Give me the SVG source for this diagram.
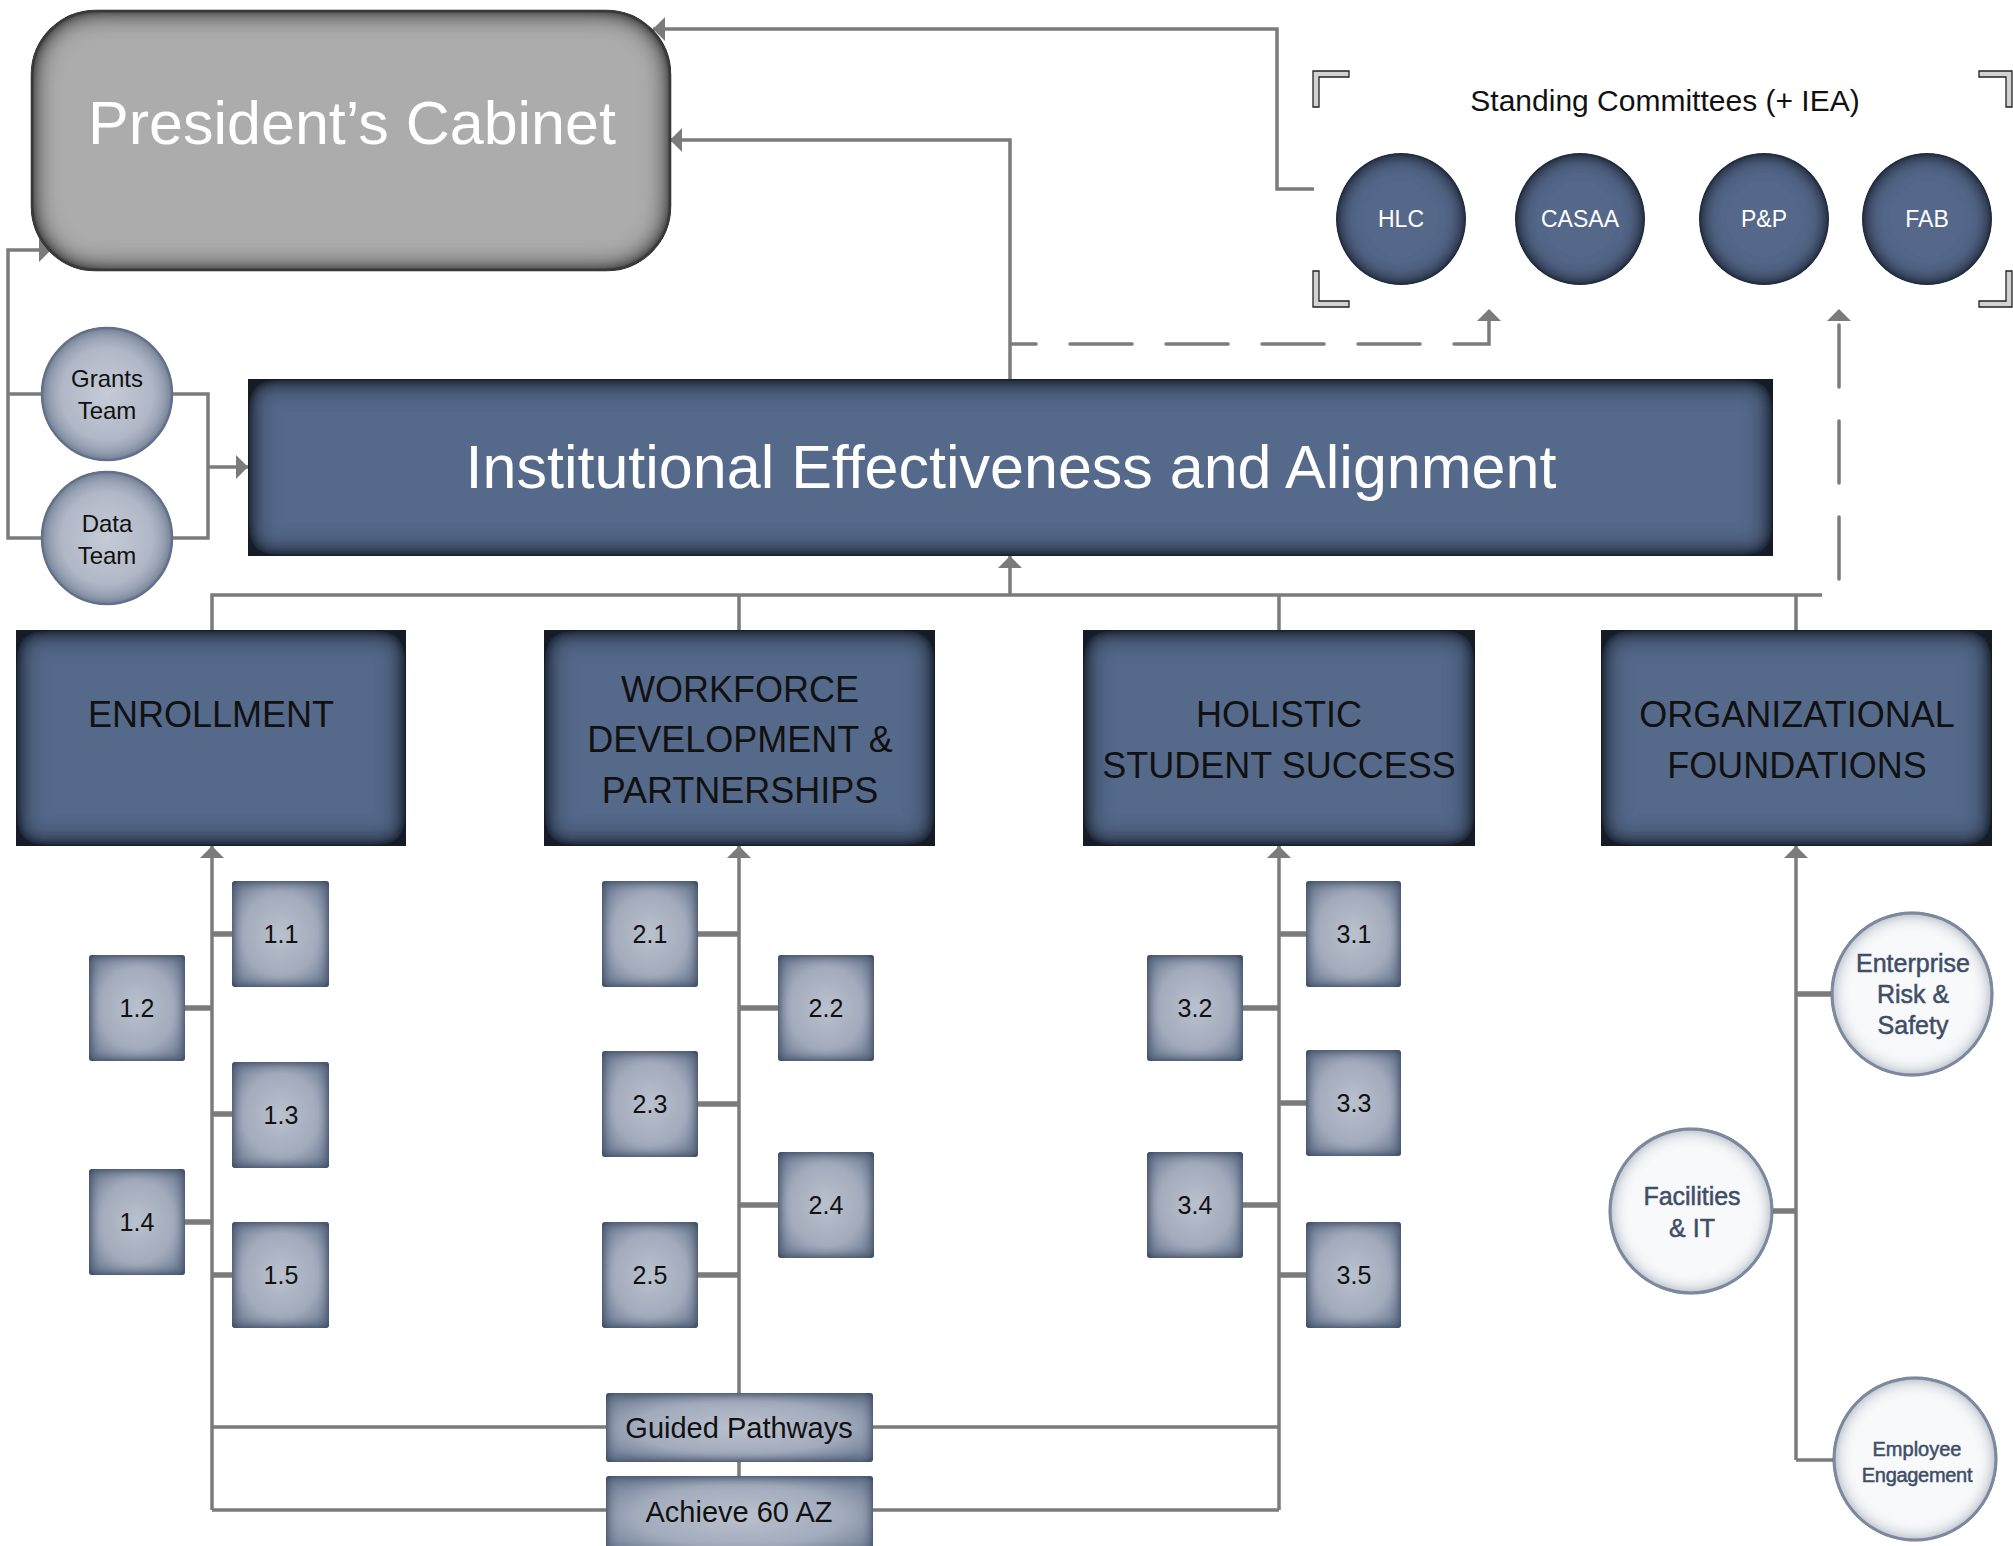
<svg xmlns="http://www.w3.org/2000/svg" width="2013" height="1546" viewBox="0 0 2013 1546">
<style>
.ln{stroke:#7b7b7b;stroke-width:3.5;fill:none}
.stub{stroke:#7b7b7b;stroke-width:5.5;fill:none}
.dash{stroke:#7b7b7b;stroke-width:3.5;fill:none;stroke-dasharray:62 34;stroke-linecap:round}
.f{font-family:"Liberation Sans",Arial,"Noto Sans",sans-serif}
.navy{fill:#55698a;filter:url(#isNavy)}
.small{fill:url(#gSmall);filter:url(#isSmall)}
.team{fill:url(#gTeam);stroke:#6a7890;stroke-width:2.5;filter:url(#isTeam)}
.org{fill:#f8f9fb;stroke:#5f6e87;stroke-width:3;filter:url(#isOrg)}
.sc{fill:#55688a;filter:url(#isSC)}
.brk{fill:#d2d2d2;stroke:#222;stroke-width:1.3}
.wt{fill:#ffffff}
.bk{fill:#111111}
.ot{fill:#3f4d67;stroke:#3f4d67;stroke-width:0.5}
</style>
<defs>
<marker id="ah" viewBox="0 0 12 24" refX="12" refY="12" markerWidth="12" markerHeight="24" markerUnits="userSpaceOnUse" orient="auto">
<path d="M0,0 L12,12 L0,24 Z" fill="#7b7b7b"/>
</marker>
<radialGradient id="gSmall" cx="50%" cy="50%" r="60%">
<stop offset="0" stop-color="#bac1ce"/>
<stop offset="0.65" stop-color="#a2abbc"/>
<stop offset="1" stop-color="#75839a"/>
</radialGradient>
<radialGradient id="gTeam" cx="50%" cy="50%" r="50%">
<stop offset="0" stop-color="#c6cbd7"/>
<stop offset="0.7" stop-color="#b0b7c6"/>
<stop offset="1" stop-color="#8793a7"/>
</radialGradient>
<filter id="isNavy" x="-5%" y="-10%" width="110%" height="120%">
<feGaussianBlur in="SourceAlpha" stdDeviation="14" result="b"/>
<feComposite in="SourceAlpha" in2="b" operator="arithmetic" k2="2" k3="-2" result="e"/>
<feFlood flood-color="#151c27"/>
<feComposite in2="e" operator="in" result="s"/>
<feMerge><feMergeNode in="SourceGraphic"/><feMergeNode in="s"/></feMerge>
</filter>
<filter id="isSmall" x="-10%" y="-10%" width="120%" height="120%">
<feGaussianBlur in="SourceAlpha" stdDeviation="6" result="b"/>
<feComposite in="SourceAlpha" in2="b" operator="arithmetic" k2="1.7" k3="-1.7" result="e"/>
<feFlood flood-color="#44536c"/>
<feComposite in2="e" operator="in" result="s"/>
<feMerge><feMergeNode in="SourceGraphic"/><feMergeNode in="s"/></feMerge>
</filter>
<filter id="isTeam" x="-10%" y="-10%" width="120%" height="120%">
<feGaussianBlur in="SourceAlpha" stdDeviation="6" result="b"/>
<feComposite in="SourceAlpha" in2="b" operator="arithmetic" k2="1.3" k3="-1.3" result="e"/>
<feFlood flood-color="#5e6c84"/>
<feComposite in2="e" operator="in" result="s"/>
<feMerge><feMergeNode in="SourceGraphic"/><feMergeNode in="s"/></feMerge>
</filter>
<filter id="isOrg" x="-10%" y="-10%" width="120%" height="120%">
<feGaussianBlur in="SourceAlpha" stdDeviation="9" result="b"/>
<feComposite in="SourceAlpha" in2="b" operator="arithmetic" k2="1.4" k3="-1.4" result="e"/>
<feFlood flood-color="#8a96aa"/>
<feComposite in2="e" operator="in" result="s"/>
<feMerge><feMergeNode in="SourceGraphic"/><feMergeNode in="s"/></feMerge>
</filter>
<filter id="isSC" x="-10%" y="-10%" width="120%" height="120%">
<feGaussianBlur in="SourceAlpha" stdDeviation="11" result="b"/>
<feComposite in="SourceAlpha" in2="b" operator="arithmetic" k2="1.8" k3="-1.8" result="e"/>
<feFlood flood-color="#1a212d"/>
<feComposite in2="e" operator="in" result="s"/>
<feMerge><feMergeNode in="SourceGraphic"/><feMergeNode in="s"/></feMerge>
</filter>
<filter id="isCab" x="-5%" y="-10%" width="110%" height="120%">
<feGaussianBlur in="SourceAlpha" stdDeviation="14" result="b"/>
<feComposite in="SourceAlpha" in2="b" operator="arithmetic" k2="2" k3="-2" result="e"/>
<feFlood flood-color="#3a3a3a"/>
<feComposite in2="e" operator="in" result="s"/>
<feMerge><feMergeNode in="SourceGraphic"/><feMergeNode in="s"/></feMerge>
</filter>
</defs>
<rect width="2013" height="1546" fill="#ffffff"/>

<g id="connectors">
<path class="ln" d="M1314,189 H1277 V29 H653" marker-end="url(#ah)"/>
<path class="ln" d="M1010,379 V140 H670" marker-end="url(#ah)"/>
<path class="dash" style="stroke-dashoffset:38" d="M1012,344 H1489 V309" marker-end="url(#ah)"/>
<path class="dash" d="M1839,579 V309" marker-end="url(#ah)"/>
<path class="ln" d="M42,394 H8"/>
<path class="ln" d="M42,538 H8 V250 H51" marker-end="url(#ah)"/>
<path class="ln" d="M172,394 H208 V538 H172"/>
<path class="ln" d="M208,467 H248" marker-end="url(#ah)"/>
<path class="ln" d="M212,630 V595 H1822"/>
<path class="ln" d="M739,595 V630"/>
<path class="ln" d="M1279,595 V630"/>
<path class="ln" d="M1796,595 V630"/>
<path class="ln" d="M1010,595 V556" marker-end="url(#ah)"/>
<path class="ln" d="M212,1510 V846" marker-end="url(#ah)"/>
<path class="ln" d="M739,1393 V846" marker-end="url(#ah)"/>
<path class="ln" d="M1279,1510 V846" marker-end="url(#ah)"/>
<path class="ln" d="M1796,1460 V846" marker-end="url(#ah)"/>
<path class="ln" d="M1796,1460 H1834"/>
<path class="ln" d="M212,1427 H606 M873,1427 H1279 M212,1510 H606 M873,1510 H1279"/>
<path class="ln" d="M739,1462 V1476"/>
<path class="stub" d="M212,934 H232 M185,1008 H212 M212,1114 H232 M185,1222 H212 M212,1275 H232"/>
<path class="stub" d="M698,934 H739 M739,1008 H778 M698,1104 H739 M739,1205 H778 M698,1275 H739"/>
<path class="stub" d="M1279,934 H1306 M1243,1008 H1279 M1279,1103 H1306 M1243,1205 H1279 M1279,1275 H1306"/>
<path class="stub" d="M1796,994 H1832 M1773,1211 H1796"/>
</g>

<g id="presidents-cabinet">
<rect x="32" y="11" width="638" height="259" rx="64" ry="64" fill="#acacac" stroke="#2b2b2b" stroke-width="2.5" filter="url(#isCab)"/>
<text class="f wt" x="352" y="144" font-size="61" text-anchor="middle">President’s Cabinet</text>
</g>

<g id="standing-committees">
<polygon class="brk" points="1313,71 1349,71 1349,77 1319,77 1319,107 1313,107"/>
<polygon class="brk" points="1313,271 1319,271 1319,301 1349,301 1349,307 1313,307"/>
<polygon class="brk" points="1979,71 2012,71 2012,107 2006,107 2006,77 1979,77"/>
<polygon class="brk" points="2006,271 2012,271 2012,307 1979,307 1979,301 2006,301"/>
<text class="f bk" x="1665" y="111" font-size="30" text-anchor="middle">Standing Committees (+ IEA)</text>
</g>
<g id="hlc"><ellipse class="sc" cx="1401" cy="219" rx="65" ry="66"/><text class="f wt" x="1401" y="227" font-size="23" text-anchor="middle">HLC</text></g>
<g id="casaa"><ellipse class="sc" cx="1580" cy="219" rx="65" ry="66"/><text class="f wt" x="1580" y="227" font-size="23" text-anchor="middle">CASAA</text></g>
<g id="pp"><ellipse class="sc" cx="1764" cy="219" rx="65" ry="66"/><text class="f wt" x="1764" y="227" font-size="23" text-anchor="middle">P&amp;P</text></g>
<g id="fab"><ellipse class="sc" cx="1927" cy="219" rx="65" ry="66"/><text class="f wt" x="1927" y="227" font-size="23" text-anchor="middle">FAB</text></g>

<g id="grants-team"><ellipse class="team" cx="107" cy="394" rx="65" ry="66"/>
<text class="f bk" x="107" y="387" font-size="24" text-anchor="middle">Grants</text>
<text class="f bk" x="107" y="419" font-size="24" text-anchor="middle">Team</text></g>
<g id="data-team"><ellipse class="team" cx="107" cy="538" rx="65" ry="66"/>
<text class="f bk" x="107" y="532" font-size="24" text-anchor="middle">Data</text>
<text class="f bk" x="107" y="564" font-size="24" text-anchor="middle">Team</text></g>

<g id="iea">
<rect class="navy" x="248" y="379" width="1525" height="177"/>
<text class="f wt" x="1011" y="488" font-size="61" text-anchor="middle">Institutional Effectiveness and Alignment</text>
</g>

<g id="enrollment"><rect class="navy" x="16" y="630" width="390" height="216"/>
<text class="f bk" x="211" y="727" font-size="36" text-anchor="middle">ENROLLMENT</text></g>
<g id="workforce"><rect class="navy" x="544" y="630" width="391" height="216"/>
<text class="f bk" x="740" y="702" font-size="36" text-anchor="middle">WORKFORCE</text>
<text class="f bk" x="740" y="752" font-size="36" text-anchor="middle">DEVELOPMENT &amp;</text>
<text class="f bk" x="740" y="803" font-size="36" text-anchor="middle">PARTNERSHIPS</text></g>
<g id="holistic"><rect class="navy" x="1083" y="630" width="392" height="216"/>
<text class="f bk" x="1279" y="727" font-size="36" text-anchor="middle">HOLISTIC</text>
<text class="f bk" x="1279" y="778" font-size="36" text-anchor="middle">STUDENT SUCCESS</text></g>
<g id="organizational"><rect class="navy" x="1601" y="630" width="391" height="216"/>
<text class="f bk" x="1797" y="727" font-size="36" text-anchor="middle">ORGANIZATIONAL</text>
<text class="f bk" x="1797" y="778" font-size="36" text-anchor="middle">FOUNDATIONS</text></g>

<g id="n1-1"><rect class="small" x="232" y="881" width="97" height="106" rx="3"/><text class="f bk" x="281" y="943" font-size="25" text-anchor="middle">1.1</text></g>
<g id="n1-2"><rect class="small" x="89" y="955" width="96" height="106" rx="3"/><text class="f bk" x="137" y="1017" font-size="25" text-anchor="middle">1.2</text></g>
<g id="n1-3"><rect class="small" x="232" y="1062" width="97" height="106" rx="3"/><text class="f bk" x="281" y="1124" font-size="25" text-anchor="middle">1.3</text></g>
<g id="n1-4"><rect class="small" x="89" y="1169" width="96" height="106" rx="3"/><text class="f bk" x="137" y="1231" font-size="25" text-anchor="middle">1.4</text></g>
<g id="n1-5"><rect class="small" x="232" y="1222" width="97" height="106" rx="3"/><text class="f bk" x="281" y="1284" font-size="25" text-anchor="middle">1.5</text></g>

<g id="n2-1"><rect class="small" x="602" y="881" width="96" height="106" rx="3"/><text class="f bk" x="650" y="943" font-size="25" text-anchor="middle">2.1</text></g>
<g id="n2-2"><rect class="small" x="778" y="955" width="96" height="106" rx="3"/><text class="f bk" x="826" y="1017" font-size="25" text-anchor="middle">2.2</text></g>
<g id="n2-3"><rect class="small" x="602" y="1051" width="96" height="106" rx="3"/><text class="f bk" x="650" y="1113" font-size="25" text-anchor="middle">2.3</text></g>
<g id="n2-4"><rect class="small" x="778" y="1152" width="96" height="106" rx="3"/><text class="f bk" x="826" y="1214" font-size="25" text-anchor="middle">2.4</text></g>
<g id="n2-5"><rect class="small" x="602" y="1222" width="96" height="106" rx="3"/><text class="f bk" x="650" y="1284" font-size="25" text-anchor="middle">2.5</text></g>

<g id="n3-1"><rect class="small" x="1306" y="881" width="95" height="106" rx="3"/><text class="f bk" x="1354" y="943" font-size="25" text-anchor="middle">3.1</text></g>
<g id="n3-2"><rect class="small" x="1147" y="955" width="96" height="106" rx="3"/><text class="f bk" x="1195" y="1017" font-size="25" text-anchor="middle">3.2</text></g>
<g id="n3-3"><rect class="small" x="1306" y="1050" width="95" height="106" rx="3"/><text class="f bk" x="1354" y="1112" font-size="25" text-anchor="middle">3.3</text></g>
<g id="n3-4"><rect class="small" x="1147" y="1152" width="96" height="106" rx="3"/><text class="f bk" x="1195" y="1214" font-size="25" text-anchor="middle">3.4</text></g>
<g id="n3-5"><rect class="small" x="1306" y="1222" width="95" height="106" rx="3"/><text class="f bk" x="1354" y="1284" font-size="25" text-anchor="middle">3.5</text></g>

<g id="guided-pathways"><rect class="small" x="606" y="1393" width="267" height="69" rx="3"/>
<text class="f bk" x="739" y="1438" font-size="29" text-anchor="middle">Guided Pathways</text></g>
<g id="achieve-60-az"><rect class="small" x="606" y="1476" width="267" height="80" rx="3"/>
<text class="f bk" x="739" y="1522" font-size="29" text-anchor="middle">Achieve 60 AZ</text></g>

<g id="enterprise-risk"><ellipse class="org" cx="1912" cy="994" rx="80" ry="81"/>
<text class="f ot" x="1913" y="972" font-size="25" text-anchor="middle">Enterprise</text>
<text class="f ot" x="1913" y="1003" font-size="25" text-anchor="middle">Risk &amp;</text>
<text class="f ot" x="1913" y="1034" font-size="25" text-anchor="middle">Safety</text></g>
<g id="facilities-it"><ellipse class="org" cx="1691" cy="1211" rx="81" ry="82"/>
<text class="f ot" x="1692" y="1205" font-size="25" text-anchor="middle">Facilities</text>
<text class="f ot" x="1692" y="1237" font-size="25" text-anchor="middle">&amp; IT</text></g>
<g id="employee-engagement"><ellipse class="org" cx="1915" cy="1459" rx="81" ry="81"/>
<text class="f ot" x="1917" y="1456" font-size="20" text-anchor="middle">Employee</text>
<text class="f ot" x="1917" y="1482" font-size="20" text-anchor="middle" letter-spacing="-0.3">Engagement</text></g>
</svg>
